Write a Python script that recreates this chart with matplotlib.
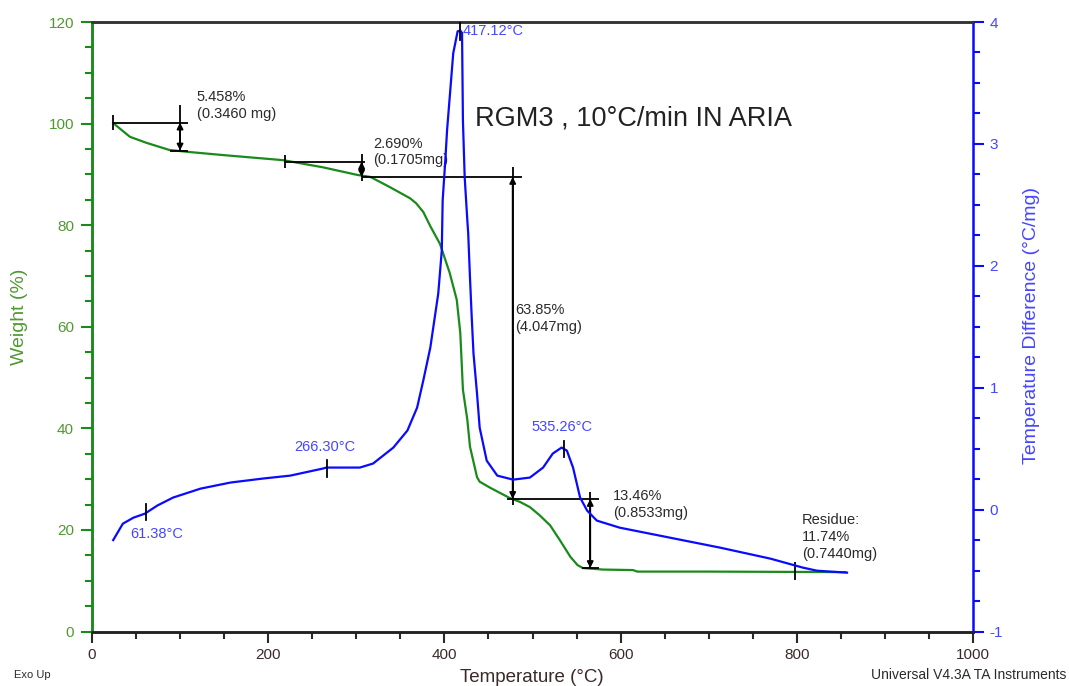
import matplotlib
matplotlib.use("Agg")
import matplotlib.pyplot as plt
import numpy as np

plt.rcParams['font.family'] = ['Liberation Sans', 'DejaVu Sans']
plt.rcParams['axes.unicode_minus'] = False

# ---- data ----
weight_T = [24, 43, 62, 88, 111, 149, 217, 262, 301, 316, 338, 361, 368, 376, 384,
            395, 406, 414, 418, 421, 426, 429, 437, 440, 452, 474, 486, 497, 508, 520,
            531, 543, 551, 557, 580, 614, 619, 700, 855]
weight_pct = [100.1, 97.4, 96.2, 94.8, 94.4, 93.8, 92.8, 91.4, 89.9, 89.5, 87.5, 85.3,
              84.3, 82.6, 79.8, 76.3, 70.6, 65.3, 58.8, 47.6, 41.7, 36.4, 30.4, 29.5,
              28.3, 26.3, 25.5, 24.5, 22.9, 20.9, 18.0, 14.7, 13.1, 12.5, 12.2, 12.1,
              11.8, 11.8, 11.7]

dta_T = [24, 35, 47, 60, 74, 92, 123, 157, 194, 225, 262, 266, 304, 319, 342, 358,
         369, 376, 384, 389, 393, 397, 398, 401, 403, 406, 410, 415, 418, 420, 421,
         423, 426, 427, 429, 431, 433, 437, 440, 448, 460, 478, 497, 512, 523, 533,
         539, 546, 554, 562, 573, 599, 656, 713, 770, 807, 823, 857]
dta_val = [-0.25, -0.115, -0.066, -0.033, 0.033, 0.099, 0.172, 0.222, 0.255, 0.279,
           0.337, 0.345, 0.345, 0.378, 0.509, 0.649, 0.837, 1.059, 1.33, 1.576, 1.773,
           2.126, 2.537, 2.865, 3.112, 3.383, 3.744, 3.924, 3.93, 3.91, 3.19, 2.726,
           2.373, 2.266, 1.905, 1.576, 1.281, 0.952, 0.673, 0.402, 0.279, 0.246, 0.263,
           0.345, 0.46, 0.509, 0.484, 0.345, 0.099, -0.008, -0.09, -0.148, -0.23,
           -0.312, -0.402, -0.476, -0.501, -0.517]

peak_T = [61.38, 266.30, 417.12, 535.26]
peak_labels = ["61.38°C", "266.30°C", "417.12°C", "535.26°C"]

step_labels = ["5.458%\n(0.3460 mg)", "2.690%\n(0.1705mg)", "63.85%\n(4.047mg)",
               "13.46%\n(0.8533mg)"]
residue_label = "Residue:\n11.74%\n(0.7440mg)"

x_ticks = [0, 200, 400, 600, 800, 1000]
w_ticks = [0, 20, 40, 60, 80, 100, 120]
d_ticks = [-1, 0, 1, 2, 3, 4]

GREEN = '#1a8a1a'
BLUE = '#0a0aff'
GREEN_TXT = '#4f9a30'
BLUE_TXT = '#4646ff'
DARK = '#2a2a2a'

fig = plt.figure(figsize=(10.69, 6.86), dpi=100)
ax = fig.add_axes([0.0861, 0.0794, 0.8241, 0.8885])
ax2 = ax.twinx()

ax.set_xlim(0, 1000)
ax.set_ylim(0, 120)
ax2.set_ylim(-1, 4)

ax.plot(weight_T, weight_pct, color=GREEN, lw=1.6, zorder=3)
ax2.plot(dta_T, dta_val, color=BLUE, lw=1.6, zorder=3)

# ticks
ax.set_xticks(x_ticks)
ax.set_xticks(np.arange(0, 1001, 50), minor=True)
ax.set_yticks(w_ticks)
ax.set_yticks(np.arange(0, 121, 5), minor=True)
ax2.set_yticks(d_ticks)
ax2.set_yticks(np.arange(-1, 4.01, 0.25), minor=True)

ax.tick_params(axis='x', which='major', length=8, width=1.5, color=DARK,
               labelsize=11, labelcolor='#3a2a2a', pad=4)
ax.tick_params(axis='x', which='minor', length=5, width=1.5, color=DARK)
ax.tick_params(axis='y', which='major', length=8, width=1.5, color=GREEN,
               labelsize=11, labelcolor=GREEN_TXT, pad=5)
ax.tick_params(axis='y', which='minor', length=5, width=1.5, color=GREEN)
ax2.tick_params(axis='y', which='major', length=8, width=1.5, color=BLUE,
                labelsize=11, labelcolor=BLUE_TXT, pad=4)
ax2.tick_params(axis='y', which='minor', length=5, width=1.5, color=BLUE)

for a in (ax, ax2):
    a.spines['top'].set_color('#333333')
    a.spines['top'].set_linewidth(1.8)
    a.spines['bottom'].set_color('#222222')
    a.spines['bottom'].set_linewidth(1.8)
ax.spines['left'].set_color(GREEN)
ax.spines['left'].set_linewidth(1.8)
ax2.spines['left'].set_color(GREEN)
ax2.spines['left'].set_linewidth(1.8)
ax2.spines['right'].set_color(BLUE)
ax2.spines['right'].set_linewidth(1.8)
ax.spines['right'].set_visible(False)

# ---- step annotations (weight axis) ----
K = 'black'
lwk = 1.3
def seg(x0, y0, x1, y1):
    ax.plot([x0, x1], [y0, y1], color=K, lw=lwk, zorder=4, solid_capstyle='butt')

def darrow(x, y0, y1):
    ax.annotate('', xy=(x, y1), xytext=(x, y0),
                arrowprops=dict(arrowstyle='<|-|>', color=K, lw=lwk,
                                mutation_scale=9, shrinkA=0, shrinkB=0), zorder=4)

# step 1
seg(24, 100.2, 109, 100.2)
seg(24, 98.8, 24, 101.6)
seg(99.9, 94.7, 99.9, 103.7)
seg(89, 94.7, 109, 94.7)
darrow(99.9, 100.2, 94.7)
# step 2
seg(219, 92.5, 310, 92.5)
seg(219, 91.3, 219, 93.8)
seg(306, 88.7, 306, 94.0)
seg(306, 89.5, 488, 89.5)
darrow(306, 92.5, 89.5)
# step 3
seg(477.5, 25.0, 477.5, 91.5)
darrow(477.5, 89.5, 26.1)
seg(471, 26.1, 576, 26.1)
# step 4
seg(565.5, 12.5, 565.5, 27.4)
darrow(565.5, 26.1, 12.5)
seg(556, 12.5, 576, 12.5)
# residue tick
seg(798, 10.1, 798, 13.7)

tk = dict(fontsize=10.5, color=DARK, linespacing=1.25, va='center', ha='left', zorder=5)
ax.text(119, 103.5, step_labels[0], **tk)
ax.text(319, 94.4, step_labels[1], **tk)
ax.text(480, 61.6, step_labels[2], **tk)
ax.text(591, 25.0, step_labels[3], **tk)
ax.text(806, 18.6, residue_label, **tk)

# ---- DTA peak markers ----
marks = [(-0.085, 0.05), (0.27, 0.41), (3.85, 4.0), (0.435, 0.56)]
for t, (v0, v1) in zip(peak_T, marks):
    ax2.plot([t, t], [v0, v1], color=K, lw=lwk, zorder=4)
bt = dict(fontsize=10.5, color=BLUE_TXT, va='center', ha='left', zorder=5)
ax.text(43, 19.2, peak_labels[0], **bt)
ax.text(230, 36.3, peak_labels[1], **bt)
ax.text(421, 118.3, peak_labels[2], **bt)
ax.text(499, 40.3, peak_labels[3], **bt)

# title
ax.text(434.7, 101.1, "RGM3 , 10°C/min IN ARIA", fontsize=19.5, color='#222222',
        va='center', ha='left')

# axis labels
fig.text(20 / 1069, 1 - 317 / 686, "Weight (%)", rotation=90, color=GREEN_TXT,
         fontsize=14, ha='center', va='center')
fig.text(1032 / 1069, 1 - 325 / 686, "Temperature Difference (°C/mg)", rotation=90,
         color=BLUE_TXT, fontsize=14, ha='center', va='center')
fig.text(532 / 1069, 1 - 677 / 686, "Temperature (°C)", color='#3a2a2a',
         fontsize=13.5, ha='center', va='center')
fig.text(14 / 1069, 1 - 675 / 686, "Exo Up", color=DARK, fontsize=8,
         ha='left', va='center')
fig.text(1066 / 1069, 1 - 675 / 686, "Universal V4.3A TA Instruments", color=DARK,
         fontsize=10, ha='right', va='center')

fig.savefig("out.png", dpi=100)
